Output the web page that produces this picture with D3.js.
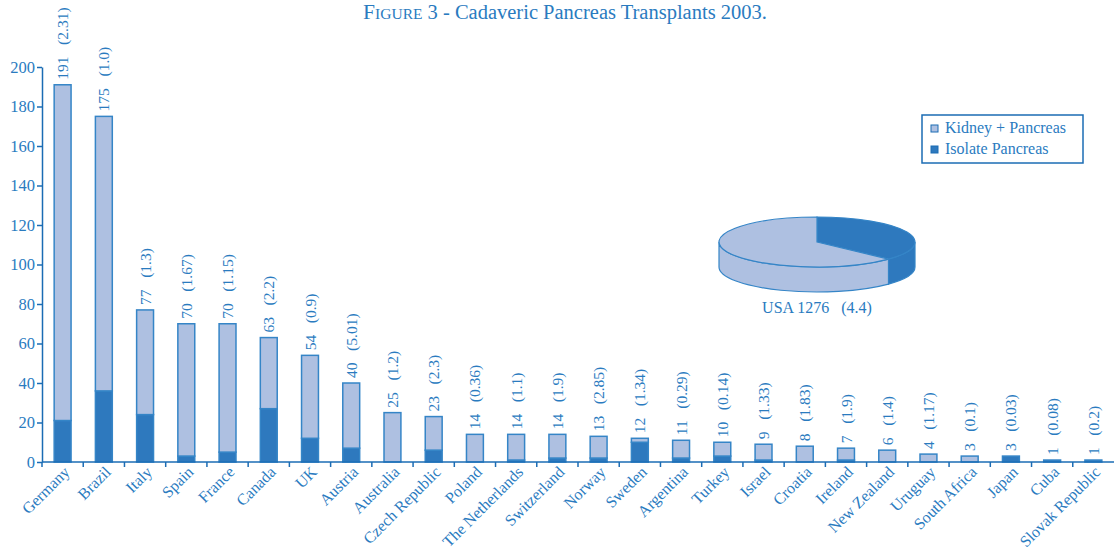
<!DOCTYPE html>
<html>
<head>
<meta charset="utf-8">
<script src="https://cdn.jsdelivr.net/npm/d3@7"></script>
<style>
  body { margin: 0; background: #fff; }
  svg { display: block; font-family: 'Liberation Serif', 'DejaVu Serif', serif; }
  .lbl { white-space: pre; }
</style>
</head>
<body>
<div id="chart"></div>
<script>
const countries = ['Germany', 'Brazil', 'Italy', 'Spain', 'France', 'Canada', 'UK', 'Austria',
  'Australia', 'Czech Republic', 'Poland', 'The Netherlands', 'Switzerland', 'Norway', 'Sweden',
  'Argentina', 'Turkey', 'Israel', 'Croatia', 'Ireland', 'New Zealand', 'Uruguay', 'South Africa',
  'Japan', 'Cuba', 'Slovak Republic']
const totals = [191, 175, 77, 70, 70, 63, 54, 40, 25, 23, 14, 14, 14, 13, 12, 11, 10, 9, 8, 7, 6, 4, 3, 3, 1, 1]
const isolate = [21, 36, 24, 3, 5, 27, 12, 7, 0, 6, 0, 1, 2, 2, 10, 2, 3, 1, 0, 1, 0, 0, 0, 3, 1, 1]
const perMillion = ['2.31', '1.0', '1.3', '1.67', '1.15', '2.2', '0.9', '5.01', '1.2', '2.3', '0.36',
  '1.1', '1.9', '2.85', '1.34', '0.29', '0.14', '1.33', '1.83', '1.9', '1.4', '1.17', '0.1', '0.03',
  '0.08', '0.2']
const yTicks = [0, 20, 40, 60, 80, 100, 120, 140, 160, 180, 200]
const seriesNames = ['Kidney + Pancreas', 'Isolate Pancreas']
const usaSlices = [{ key: 'Isolate Pancreas', value: 472 }, { key: 'Kidney + Pancreas', value: 804 }]
const usaLabel = 'USA 1276   (4.4)'

const width = 1114
const height = 549
const margin = { top: 67, right: 0, bottom: 87, left: 42 }
const textColor = '#2a7bbf'
const axisColor = '#1b6cb4'
const light = '#aec0e1'
const dark = '#2e79be'
const barStroke = '#3585c7'

const data = countries.map((c, i) => ({
  country: c,
  total: totals[i],
  isolate: isolate[i],
  kidney: totals[i] - isolate[i],
  rate: perMillion[i]
}))

const svg = d3.select('#chart').append('svg')
  .attr('width', width)
  .attr('height', height)

// title
const title = svg.append('text')
  .attr('x', 565)
  .attr('y', 19)
  .attr('text-anchor', 'middle')
  .attr('fill', textColor)
  .attr('font-size', 20.5)
title.append('tspan').attr('font-size', 21.5).text('F')
title.append('tspan').attr('font-size', 15.5).text('IGURE')
title.append('tspan').text(' 3 - Cadaveric Pancreas Transplants 2003.')

const innerW = width - margin.left - margin.right
const innerH = height - margin.top - margin.bottom

const x = d3.scaleBand()
  .domain(countries)
  .range([0, innerW])
  .paddingInner(0.59)
  .paddingOuter(0.295)

const y = d3.scaleLinear()
  .domain([0, 200])
  .range([innerH, 0])

const g = svg.append('g')
  .attr('transform', 'translate(' + margin.left + ',' + margin.top + ')')

// stacked bars
const stack = d3.stack().keys(['isolate', 'kidney'])(data)
const fills = { isolate: dark, kidney: light }

g.append('g').selectAll('g')
  .data(stack)
  .join('g')
  .attr('fill', d => fills[d.key])
  .selectAll('rect')
  .data(d => d.filter(s => s[1] - s[0] > 0))
  .join('rect')
  .attr('x', d => x(d.data.country))
  .attr('y', d => y(d[1]))
  .attr('width', x.bandwidth())
  .attr('height', d => y(d[0]) - y(d[1]))
  .attr('stroke', barStroke)
  .attr('stroke-width', 1.5)

// value labels
g.append('g').selectAll('text')
  .data(data)
  .join('text')
  .attr('class', 'lbl')
  .attr('transform', d => 'translate(' + (x(d.country) + x.bandwidth() / 2 + 5.5) + ',' + (y(d.total) - 5) + ') rotate(-90)')
  .attr('fill', textColor)
  .attr('font-size', 15.5)
  .text(d => d.total + '   (' + d.rate + ')')

// y axis
const axisY = d3.axisLeft(y).tickValues(yTicks).tickSize(5).tickSizeOuter(0)
const gy = g.append('g').call(axisY)
gy.select('.domain').attr('stroke', axisColor).attr('stroke-width', 1.5)
gy.selectAll('.tick line').attr('stroke', axisColor).attr('stroke-width', 1.5)
gy.selectAll('.tick text')
  .attr('fill', textColor)
  .attr('font-size', 16.5)
  .attr('font-family', 'Liberation Serif, serif')
  .attr('x', -7)

// x axis
const gx = g.append('g').attr('transform', 'translate(0,' + innerH + ')')
gx.append('line')
  .attr('x1', 0)
  .attr('x2', innerW)
  .attr('stroke', axisColor)
  .attr('stroke-width', 1.5)
gx.selectAll('.xtick')
  .data(countries)
  .join('line')
  .attr('class', 'xtick')
  .attr('x1', d => x(d) - x.step() * x.paddingInner() / 2)
  .attr('x2', d => x(d) - x.step() * x.paddingInner() / 2)
  .attr('y1', 0)
  .attr('y2', 5)
  .attr('stroke', axisColor)
  .attr('stroke-width', 1.5)
gx.selectAll('.xlabel')
  .data(countries)
  .join('text')
  .attr('class', 'xlabel')
  .attr('transform', d => 'translate(' + (x(d) + x.bandwidth() / 2 + 8) + ',11) rotate(-45)')
  .attr('text-anchor', 'end')
  .attr('fill', textColor)
  .attr('font-size', 16)
  .text(d => d)

// legend
const legend = svg.append('g').attr('transform', 'translate(922,115)')
legend.append('rect')
  .attr('width', 161)
  .attr('height', 48)
  .attr('fill', '#fff')
  .attr('stroke', axisColor)
  .attr('stroke-width', 1.5)
const legendFill = [light, dark]
seriesNames.forEach((name, i) => {
  legend.append('rect')
    .attr('x', 9)
    .attr('y', 10 + i * 21)
    .attr('width', 7)
    .attr('height', 7)
    .attr('fill', legendFill[i])
    .attr('stroke', axisColor)
    .attr('stroke-width', 1)
  legend.append('text')
    .attr('x', 23)
    .attr('y', 18 + i * 21)
    .attr('fill', textColor)
    .attr('font-size', 16)
    .text(name)
})

// USA 3d pie
const cx = 817
const cy = 242
const rx = 98
const ry = 25
const depth = 25
const pt = (a, dy) => [cx + rx * Math.sin(a), cy - ry * Math.cos(a) + (dy || 0)]
const arcs = d3.pie().sort(null).value(d => d.value)(usaSlices)
const sliceFill = { 'Isolate Pancreas': dark, 'Kidney + Pancreas': light }
const pie = svg.append('g')

// side walls, front half only
arcs.forEach(a => {
  const a0 = Math.max(a.startAngle, Math.PI / 2)
  const a1 = Math.min(a.endAngle, Math.PI * 1.5)
  if (a1 <= a0) return
  const p0 = pt(a0), p1 = pt(a1), q1 = pt(a1, depth), q0 = pt(a0, depth)
  const d = 'M' + p0 + ' A' + rx + ',' + ry + ' 0 0 1 ' + p1 +
    ' L' + q1 + ' A' + rx + ',' + ry + ' 0 0 0 ' + q0 + ' Z'
  pie.append('path')
    .attr('d', d)
    .attr('fill', sliceFill[a.data.key])
    .attr('stroke', barStroke)
    .attr('stroke-width', 1.2)
})

// top face
arcs.forEach(a => {
  const p0 = pt(a.startAngle), p1 = pt(a.endAngle)
  const large = a.endAngle - a.startAngle > Math.PI ? 1 : 0
  const d = 'M' + cx + ',' + cy + ' L' + p0 + ' A' + rx + ',' + ry + ' 0 ' + large + ' 1 ' + p1 + ' Z'
  pie.append('path')
    .attr('d', d)
    .attr('fill', sliceFill[a.data.key])
    .attr('stroke', barStroke)
    .attr('stroke-width', 1.2)
})

pie.append('text')
  .attr('class', 'lbl')
  .attr('x', cx)
  .attr('y', 313)
  .attr('text-anchor', 'middle')
  .attr('fill', textColor)
  .attr('font-size', 16)
  .text(usaLabel)
</script>
</body>
</html>
